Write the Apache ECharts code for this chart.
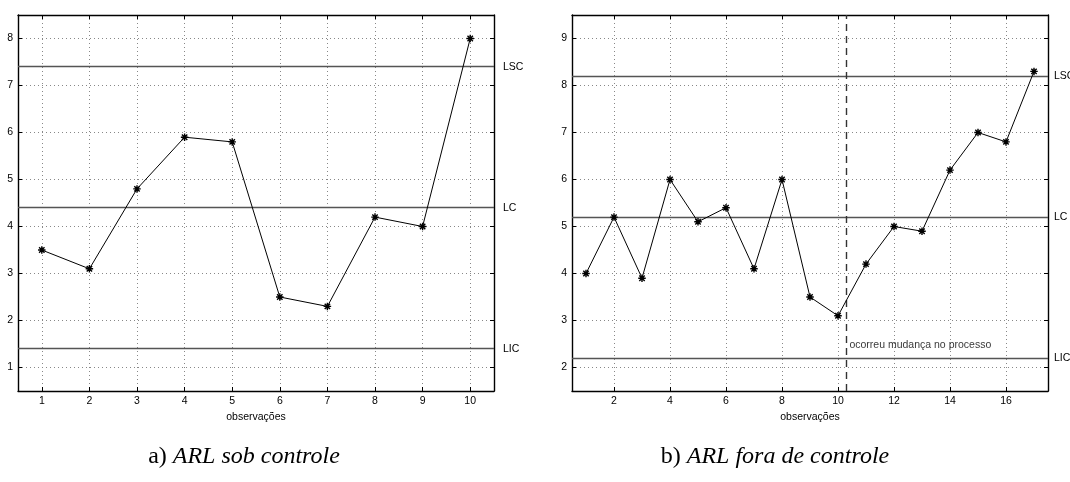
<!DOCTYPE html>
<html>
<head>
<meta charset="utf-8">
<script src="https://cdn.jsdelivr.net/npm/echarts@6/dist/echarts.min.js"></script>
<style>html,body{margin:0;padding:0;background:#fff}#c{width:1070px;height:482px}</style>
</head>
<body>
<div id="c"></div>
<script>
// ---- data ----
const obsLeft = [1, 2, 3, 4, 5, 6, 7, 8, 9, 10];
const valuesLeft = [3.5, 3.1, 4.8, 5.9, 5.8, 2.5, 2.3, 4.2, 4.0, 8.0];
const obsRight = [1, 2, 3, 4, 5, 6, 7, 8, 9, 10, 11, 12, 13, 14, 15, 16, 17];
const valuesRight = [4.0, 5.2, 3.9, 6.0, 5.1, 5.4, 4.1, 6.0, 3.5, 3.1, 4.2, 5.0, 4.9, 6.2, 7.0, 6.8, 8.3];
const limitNames = ['LSC', 'LC', 'LIC'];
const limitsLeft = [7.4, 4.4, 1.4];
const limitsRight = [8.2, 5.2, 2.2];
const changePoint = [10.3];
const changeText = ['ocorreu mudança no processo'];
const changeTextY = [2.48];
const xTicksLeft = [1, 2, 3, 4, 5, 6, 7, 8, 9, 10];
const yTicksLeft = [1, 2, 3, 4, 5, 6, 7, 8];
const xTicksRight = [2, 4, 6, 8, 10, 12, 14, 16];
const yTicksRight = [2, 3, 4, 5, 6, 7, 8, 9];
const axisNameX = 'observações';
const captions = [['a) ', 'ARL sob controle'], ['b) ', 'ARL fora de controle']];

// ---- styles ----
const FONT = '"Liberation Sans", Arial, sans-serif';
const FS = 10.5;
const gridLine = { show: true, lineStyle: { color: '#888', width: 1, type: [1, 3] } };
const boxLine = { show: true, onZero: false, lineStyle: { color: '#000', width: 1.4 } };
const asterisk = 'path://M0,-5L0,5M-5,0L5,0M-3.6,-3.6L3.6,3.6M-3.6,3.6L3.6,-3.6';

function xAxes(gridIndex, min, max, ticks) {
  return [
    { type: 'value', gridIndex, position: 'bottom', min, max,
      name: axisNameX, nameLocation: 'middle', nameGap: 20,
      nameTextStyle: { fontFamily: FONT, fontSize: FS, color: '#000' },
      axisLine: boxLine,
      axisTick: { show: true, inside: true, length: 4, customValues: ticks, lineStyle: { color: '#000', width: 1 } },
      axisLabel: { show: true, customValues: ticks, margin: 5, fontFamily: FONT, fontSize: FS, color: '#000' },
      splitLine: gridLine },
    { type: 'value', gridIndex, position: 'top', min, max,
      axisLine: boxLine,
      axisTick: { show: true, inside: true, length: 4, customValues: ticks, lineStyle: { color: '#000', width: 1 } },
      axisLabel: { show: false }, splitLine: { show: false } }
  ];
}
function yAxes(gridIndex, min, max, ticks) {
  return [
    { type: 'value', gridIndex, position: 'left', min, max,
      axisLine: boxLine,
      axisTick: { show: true, inside: true, length: 4, customValues: ticks, lineStyle: { color: '#000', width: 1 } },
      axisLabel: { show: true, customValues: ticks, margin: 5, fontFamily: FONT, fontSize: FS, color: '#000' },
      splitLine: gridLine },
    { type: 'value', gridIndex, position: 'right', min, max,
      axisLine: boxLine,
      axisTick: { show: true, inside: true, length: 4, customValues: ticks, lineStyle: { color: '#000', width: 1 } },
      axisLabel: { show: false }, splitLine: { show: false } }
  ];
}
function limitLines(limits, dist) {
  return {
    symbol: 'none', silent: true,
    lineStyle: { color: '#555', width: 1.4, type: 'solid' },
    label: { show: true, position: 'end', distance: dist, formatter: '{b}', fontFamily: FONT, fontSize: FS, color: '#000' },
    data: limits.map((v, i) => ({ yAxis: v, name: limitNames[i] }))
  };
}
function mainSeries(xs, ys, xi, yi, ml) {
  return {
    type: 'line', xAxisIndex: xi, yAxisIndex: yi,
    data: xs.map((x, i) => [x, ys[i]]),
    lineStyle: { color: '#000', width: 1 },
    symbol: asterisk, symbolSize: 7.5,
    itemStyle: { color: 'rgba(0,0,0,0)', borderColor: '#000', borderWidth: 1.4 },
    markLine: ml, z: 5
  };
}

const rightMarkLine = limitLines(limitsRight, 6);
rightMarkLine.data = rightMarkLine.data.concat(changePoint.map(v => ({
  xAxis: v, name: '',
  lineStyle: { color: '#333', width: 1.4, type: [7, 5] },
  label: { show: false }
})));

const option = {
  animation: false,
  backgroundColor: '#fff',
  grid: [
    { left: 18, top: 15, width: 476, height: 376 },
    { left: 572, top: 15, width: 476, height: 376 }
  ],
  xAxis: [].concat(xAxes(0, 0.5, 10.5, xTicksLeft), xAxes(1, 0.5, 17.5, xTicksRight)),
  yAxis: [].concat(yAxes(0, 0.5, 8.5, yTicksLeft), yAxes(1, 1.5, 9.5, yTicksRight)),
  series: [
    mainSeries(obsLeft, valuesLeft, 0, 0, limitLines(limitsLeft, 9)),
    mainSeries(obsRight, valuesRight, 2, 2, rightMarkLine),
    { type: 'scatter', xAxisIndex: 2, yAxisIndex: 2, symbolSize: 0, silent: true,
      data: changePoint.map((x, i) => ({ value: [x, changeTextY[i]], name: changeText[i] })),
      label: { show: true, position: 'right', distance: 3, formatter: '{b}', fontFamily: FONT, fontSize: FS, color: '#000' } }
  ],
  graphic: captions.map((c, i) => ({
    type: 'text', x: i === 0 ? 244 : 775, y: 457,
    style: {
      text: '{n|' + c[0] + '}{i|' + c[1] + '}',
      align: 'center', verticalAlign: 'middle',
      rich: {
        n: { fontFamily: '"Liberation Serif", serif', fontSize: 24, fill: '#000', fontStyle: 'normal' },
        i: { fontFamily: '"Liberation Serif", serif', fontSize: 24, fill: '#000', fontStyle: 'italic' }
      }
    }
  }))
};
const chart = echarts.init(document.getElementById('c'), null, { renderer: 'canvas' });
chart.setOption(option);
</script>
</body>
</html>
